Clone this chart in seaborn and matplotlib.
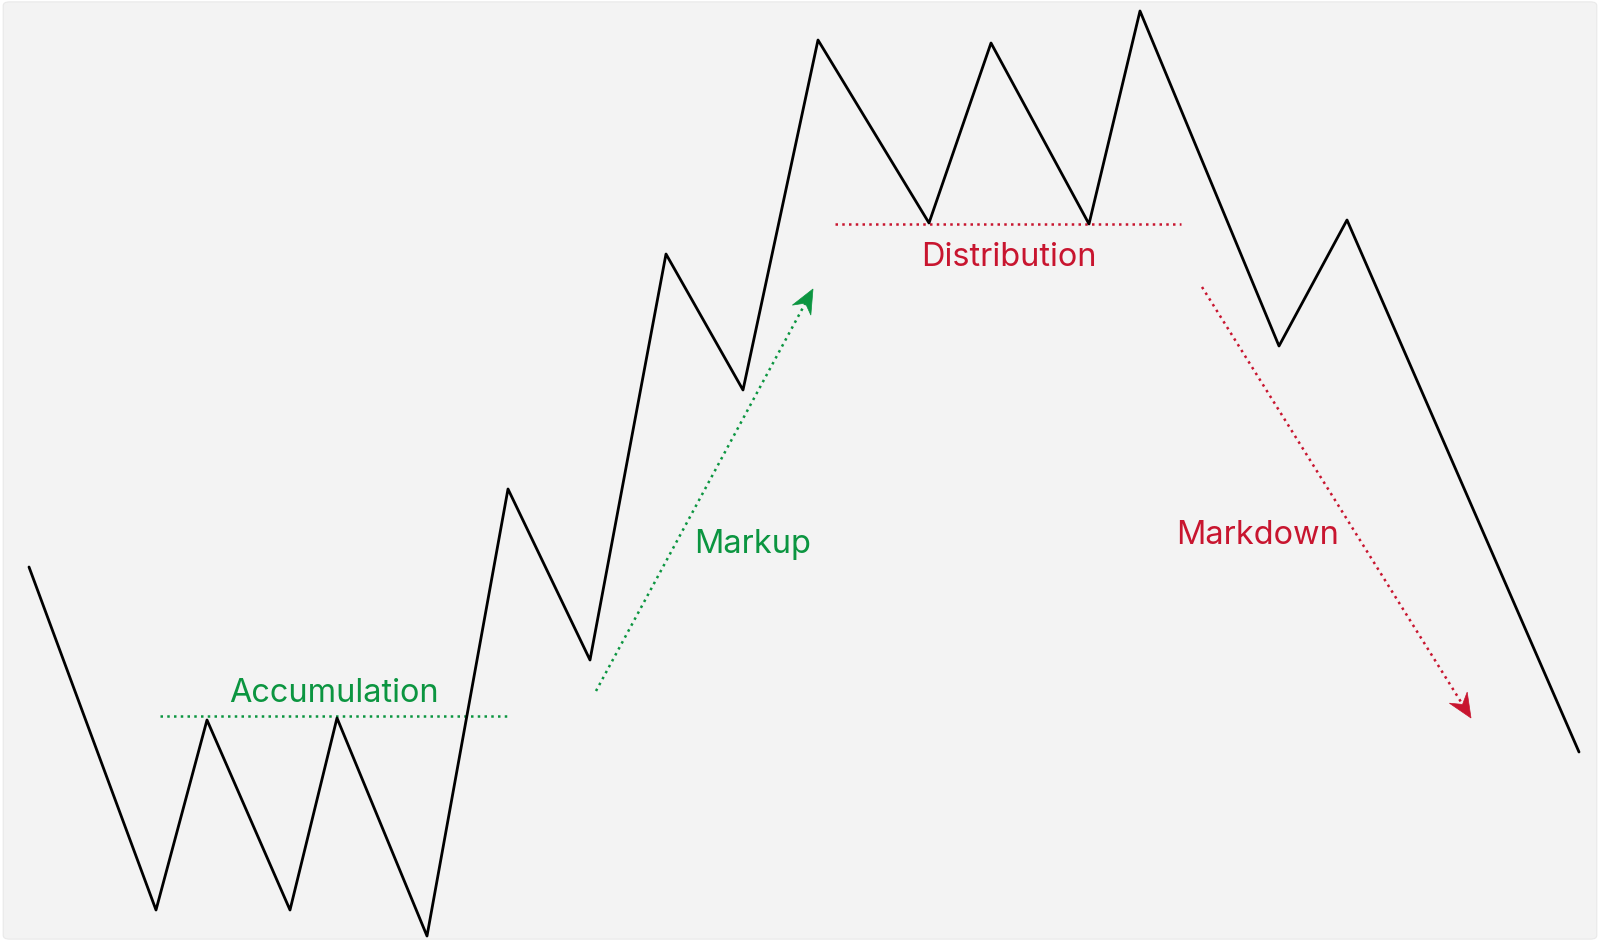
import numpy as np
import pandas as pd
import matplotlib.pyplot as plt
import seaborn as sns
from matplotlib.patches import FancyBboxPatch, Polygon

# ---------- DATA ----------
swing_x = [29, 156, 207, 290, 337, 427, 508, 590, 666, 743, 818, 929, 991, 1089, 1140, 1279, 1347, 1579]
swing_price = [374, 31, 221, 31, 223, 5, 452, 281, 687, 551, 901, 718, 898, 717, 930, 595, 721, 189]

accum_x = [160, 507]
accum_level = [225, 225]
distrib_x = [835, 1181]
distrib_level = [717, 717]

markup_x = [596, 813]
markup_price = [250, 652]
markdown_x = [1202, 1471]
markdown_price = [654, 223]

labels = ["Accumulation", "Markup", "Distribution", "Markdown"]
label_x = [334, 753, 1009, 1258]
label_y = [248, 396, 684, 406]

GREEN = "#0b9540"
RED = "#c8152f"
BG = "#f3f3f3"

# ---------- STYLE ----------
sns.set_theme(style="white")
plt.rcParams["font.family"] = ["Inter", "DejaVu Sans"]

W, H = 1600, 941
fig = plt.figure(figsize=(W / 100, H / 100), dpi=100, facecolor="white")
fig.patches.append(FancyBboxPatch((0.002, 0.002), 0.996, 0.996,
                                  boxstyle="round,pad=0,rounding_size=0.004",
                                  transform=fig.transFigure, facecolor=BG,
                                  edgecolor="#e9e9e9", linewidth=0.8, zorder=-10))
ax = fig.add_axes([0, 0, 1, 1])
ax.set_facecolor("none")
ax.set_xlim(0, W)
ax.set_ylim(0, H)
ax.set_axis_off()

# ---------- PRICE PATH ----------
df = pd.DataFrame({"t": swing_x, "price": swing_price})
sns.lineplot(data=df, x="t", y="price", sort=False, color="black", lw=2.0,
             ax=ax, zorder=3)

# ---------- RANGE LEVELS ----------
dots = (0, (1, 1.7))
sns.lineplot(x=accum_x, y=accum_level, color=GREEN, lw=1.8, ls=dots, ax=ax)
sns.lineplot(x=distrib_x, y=distrib_level, color=RED, lw=1.8, ls=dots, ax=ax)

# ---------- TREND ARROWS ----------
def stealth_head(x0, y0, x1, y1, color, length=24, width=21, notch=8):
    d = np.array([x1 - x0, y1 - y0], dtype=float)
    d /= np.hypot(*d)
    n = np.array([-d[1], d[0]])
    tip = np.array([x1, y1], dtype=float)
    back = tip - d * length
    pts = [tip, back + n * width / 2, tip - d * (length - notch), back - n * width / 2]
    ax.add_patch(Polygon(pts, closed=True, facecolor=color, edgecolor=color,
                         lw=0.5, zorder=4))
    return tip - d * (length - notch)

for xs, ys, c in [(markup_x, markup_price, GREEN), (markdown_x, markdown_price, RED)]:
    end = stealth_head(xs[0], ys[0], xs[1], ys[1], c)
    sns.lineplot(x=[xs[0], end[0]], y=[ys[0], end[1]], color=c, lw=1.8,
                 ls=dots, sort=False, ax=ax)

# ---------- LABELS ----------
colors = [GREEN, GREEN, RED, RED]
for txt, x, y, c in zip(labels, label_x, label_y, colors):
    ax.text(x, y, txt, color=c, fontsize=23.4, ha="center", va="center",
            fontweight="normal")

fig.savefig("out.png", dpi=100, facecolor=fig.get_facecolor())
